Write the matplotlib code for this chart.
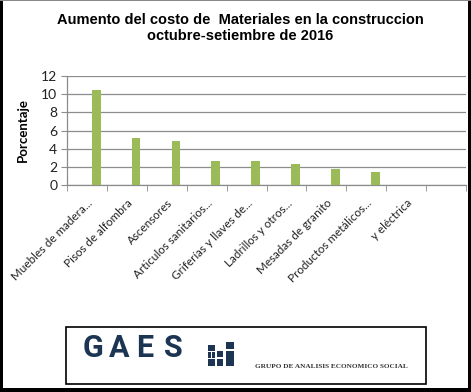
import matplotlib
matplotlib.use("Agg")
import matplotlib.pyplot as plt
from matplotlib.patches import Rectangle
from matplotlib.transforms import ScaledTranslation

categories = ["Muebles de madera...", "Pisos de alfombra", "Ascensores",
              "Articulos sanitarios...", "Griferías y llaves de...",
              "Ladrillos y otros...", "Mesadas de granito",
              "Productos metálicos...", "y eléctrica", ""]
values = [10.45, 5.2, 4.88, 2.64, 2.64, 2.31, 1.76, 1.47, 0, 0]
yticks = [0, 2, 4, 6, 8, 10, 12]

W, H = 471, 392
fig = plt.figure(figsize=(W / 100, H / 100), dpi=100)
fig.patch.set_facecolor("white")

def fx(px):
    return px / W

def fy(py):
    return 1 - py / H

ax = fig.add_axes([fx(67), fy(185), fx(466) - fx(67), fy(76) - fy(185)])
x = list(range(len(categories)))
bar_offset = 0.23  # series drawn as the right-hand member of a cluster
ax.bar([i + bar_offset for i in x], values, width=0.22, color="#9bbb59", zorder=3)
ax.set_xlim(-0.5, len(categories) - 0.5)
ax.set_ylim(0, 12)
ax.set_yticks(yticks)
ax.set_yticklabels([str(v) for v in yticks], fontsize=10, family="Lato",
                   color="#222222")
ax.grid(axis="y", color="#8c8c8c", linewidth=0.9, zorder=0)
ax.set_axisbelow(True)
for s in ["top", "right"]:
    ax.spines[s].set_visible(False)
for s in ["left", "bottom"]:
    ax.spines[s].set_color("#8c8c8c")
    ax.spines[s].set_linewidth(0.9)
ax.tick_params(axis="y", length=4, color="#8c8c8c", pad=3)
ax.set_xticks(x)
ax.set_xticklabels(categories, rotation=45, ha="right", va="top",
                   rotation_mode="anchor", fontsize=8.4, family="Lato",
                   color="#222222")
shift = ScaledTranslation(5 / 100, 0, fig.dpi_scale_trans)
for lbl in ax.get_xticklabels():
    lbl.set_transform(lbl.get_transform() + shift)
ax.tick_params(axis="x", which="major", length=0, pad=9)
ax.set_xticks([i - 0.5 for i in range(len(categories) + 1)], minor=True)
ax.tick_params(axis="x", which="minor", length=4, color="#8c8c8c")
ax.set_ylabel("Porcentaje", fontsize=9.5, fontweight="bold", family="Lato",
              labelpad=9)

fig.text(fx(240), fy(20), "Aumento del costo de  Materiales en la construccion",
         ha="center", va="center", fontsize=10.5, fontweight="bold",
         family="Liberation Sans")
fig.text(fx(240), fy(36), "octubre-setiembre de 2016",
         ha="center", va="center", fontsize=10.5, fontweight="bold",
         family="Liberation Sans")

# logo box
fig.patches.append(Rectangle((fx(66), fy(384)), fx(426) - fx(66), fy(327) - fy(384),
                             transform=fig.transFigure, fill=False,
                             edgecolor="black", linewidth=1.2))
navy = "#1c3553"
for letter, cx in zip("GAES", [92.5, 119, 145, 173.5]):
    fig.text(fx(cx), fy(348), letter, ha="center", va="center", fontsize=22,
             fontweight="bold", family="Roboto", color=navy)
# icon blocks (x0, y0, x1, y1) in pixels
blocks = [(208, 345, 215, 351), (208, 352, 211, 358), (212, 352, 215, 358),
          (208, 359, 215, 366),
          (217, 351, 223, 357), (217, 359, 223, 366),
          (226, 342, 234, 349), (226, 351, 234, 366)]
for x0, y0, x1, y1 in blocks:
    fig.patches.append(Rectangle((fx(x0), fy(y1)), fx(x1) - fx(x0), fy(y0) - fy(y1),
                                 transform=fig.transFigure, facecolor=navy,
                                 edgecolor="none"))
fig.text(fx(255), fy(366), "GRUPO DE ANALISIS ECONOMICO SOCIAL", ha="left",
         va="center", fontsize=5.2, fontweight="bold", family="Liberation Serif",
         color="#333333")

# outer frame
frame = [(0, 0, 3, H, "black"), (468, 0, W, H, "black"),
         (0, 388, W, H, "black"), (0, 0, W, 1, "#888888")]
for x0, y0, x1, y1, c in frame:
    fig.patches.append(Rectangle((fx(x0), fy(y1)), fx(x1) - fx(x0), fy(y0) - fy(y1),
                                 transform=fig.transFigure, facecolor=c,
                                 edgecolor="none"))

fig.savefig("out.png", dpi=100, facecolor="white")
